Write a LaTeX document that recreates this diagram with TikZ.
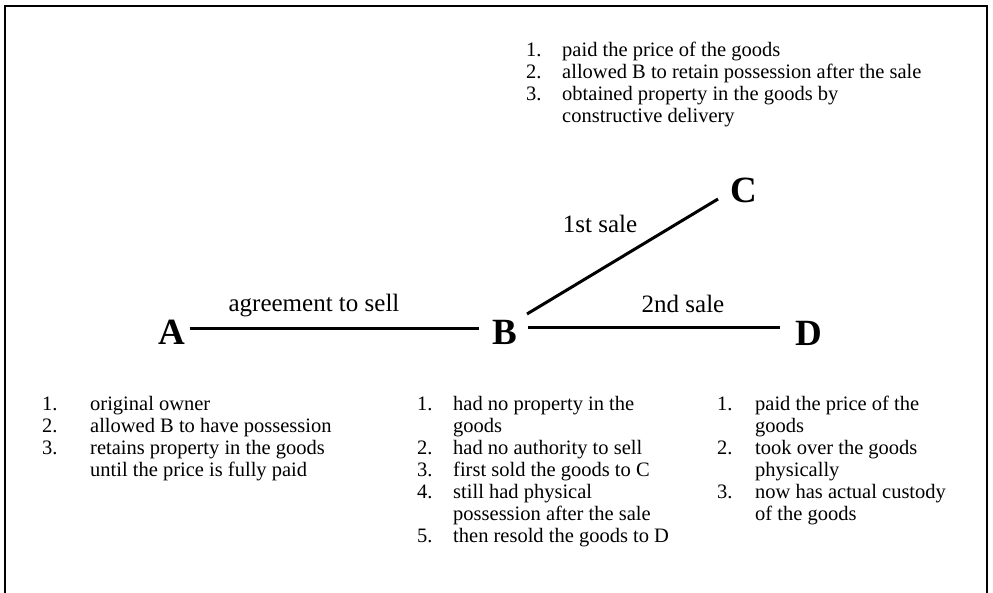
\documentclass[tikz,border=0pt]{standalone}
\usepackage{fontspec}
\setmainfont{Liberation Serif}
\usepackage{array}
\begin{document}
\begin{tikzpicture}[x=1pt,y=-1pt,
  letter/.style={font=\fontsize{37}{37}\selectfont\bfseries, inner sep=0pt},
  conn/.style={line width=3pt},
  lab/.style={font=\fontsize{25}{25}\selectfont, inner sep=0pt},
  listnode/.style={font=\fontsize{20.5}{22}\selectfont, inner sep=0pt, anchor=base west},
  frame/.style={line width=2.5pt}
]
\useasboundingbox (0,0) rectangle (993,593);
% open frame
\draw[frame] (5,593) -- (5,6) -- (987,6) -- (987,593);

% letters
\node[letter] (A) at (172,332) {A};
\node[letter] (B) at (505,332) {B};
\node[letter] (C) at (744,190) {C};
\node[letter] (D) at (809,333) {D};

% connectors
\draw[conn] ([xshift=4pt,yshift=3pt]A.east) -- ([xshift=-13pt,yshift=3pt]B.west);
\draw[conn] ([shift={(22,-18)}]B.center) -- ([shift={(-26,9)}]C.center);
\draw[conn] ([xshift=10pt,yshift=4pt]B.east) -- ([xshift=-15pt,yshift=5pt]D.west);

% connector labels
\node[lab] (l1) at (314,306) {agreement to sell};
\node[lab] (l2) at (600,224) {1st sale};
\node[lab] (l3) at (683,304) {2nd sale};

% lists
\node[listnode] (clist) at (526,57) {\begin{tabular}[t]{@{}p{36pt}@{}l@{}}
1. & paid the price of the goods\\
2. & allowed B to retain possession after the sale\\
3. & obtained property in the goods by\\
   & constructive delivery
\end{tabular}};

\node[listnode] (alist) at (42,410) {\begin{tabular}[t]{@{}p{48pt}@{}l@{}}
1. & original owner\\
2. & allowed B to have possession\\
3. & retains property in the goods\\
   & until the price is fully paid
\end{tabular}};

\node[listnode] (blist) at (417,410) {\begin{tabular}[t]{@{}p{36pt}@{}l@{}}
1. & had no property in the\\
   & goods\\
2. & had no authority to sell\\
3. & first sold the goods to C\\
4. & still had physical\\
   & possession after the sale\\
5. & then resold the goods to D
\end{tabular}};

\node[listnode] (dlist) at (717,410) {\begin{tabular}[t]{@{}p{38pt}@{}l@{}}
1. & paid the price of the\\
   & goods\\
2. & took over the goods\\
   & physically\\
3. & now has actual custody\\
   & of the goods
\end{tabular}};
\end{tikzpicture}
\end{document}
